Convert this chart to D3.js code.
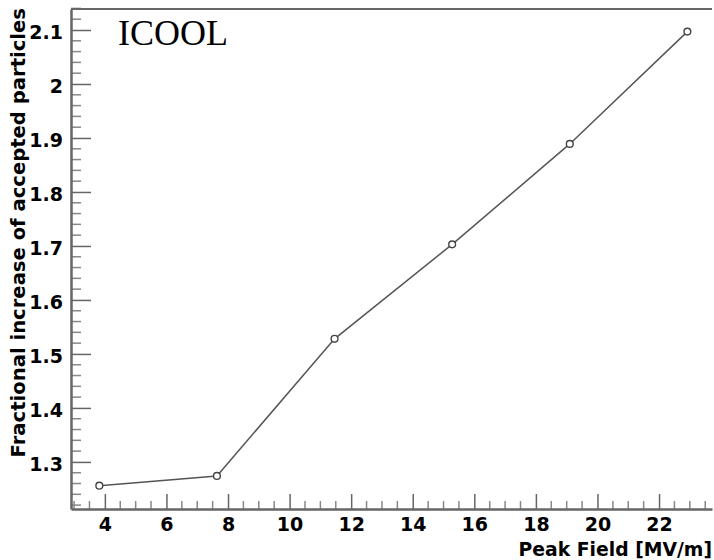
<!DOCTYPE html>
<html lang="en">
<head>
<meta charset="UTF-8">
<title>ICOOL peak field</title>
<style>
	body { margin: 0; background: #fff; }
	text { font-family: "DejaVu Sans", "Liberation Sans", Arial, sans-serif; font-weight: bold; fill: #000; }
</style>
</head>
<body>
<svg id="container" width="714" height="560"></svg>
<script src="https://cdn.jsdelivr.net/npm/d3@7"></script>
<script>
	// data
	let peakField = [3.82, 7.64, 11.46, 15.28, 19.1, 22.92];
	let fracIncrease = [1.256, 1.274, 1.528, 1.703, 1.889, 2.097];
	let xTicks = [4, 6, 8, 10, 12, 14, 16, 18, 20, 22];
	let yTicks = [1.3, 1.4, 1.5, 1.6, 1.7, 1.8, 1.9, 2, 2.1];
	let xTitle = "Peak Field [MV/m]";
	let yTitle = "Fractional increase of accepted particles";
	let label = "ICOOL";

	let padL = 71, padR = 712, padT = 9, padB = 509;
	let svg = d3.select("#container");
	let font = "DejaVu Sans, Liberation Sans, Arial, sans-serif";

	let xscale = d3.scaleLinear().domain([2.9, 23.72]).range([padL, padR]);
	let yscale = d3.scaleLinear().domain([1.2128, 2.1389]).range([padB, padT]);

	let data = peakField.map((x, i) => ({x: x, y: fracIncrease[i]}));

	// minor ticks
	let xMinor = d3.range(3, 23.8, 0.5).filter(v => xTicks.indexOf(v) < 0);
	let yMinor = d3.range(1.22, 2.14, 0.02).map(v => +v.toFixed(2)).filter(v => yTicks.indexOf(v) < 0);

	let grey = "#666";

	svg.append("g").selectAll("line").data(xMinor).join("line")
		.attr("x1", d => xscale(d)).attr("x2", d => xscale(d))
		.attr("y1", padB).attr("y2", padB - 8)
		.attr("stroke", "#888").attr("stroke-width", 1.5);
	svg.append("g").selectAll("line").data(yMinor).join("line")
		.attr("y1", d => yscale(d)).attr("y2", d => yscale(d))
		.attr("x1", padL).attr("x2", padL + 10)
		.attr("stroke", "#888").attr("stroke-width", 1.5);

	// x axis
	let xaxis = svg.append("g")
		.attr("transform", "translate(0," + padB + ")")
		.call(d3.axisBottom(xscale).tickValues(xTicks).tickSize(-15).tickPadding(6).tickSizeOuter(0));
	xaxis.select(".domain").attr("stroke", grey).attr("stroke-width", 2.5);
	xaxis.selectAll(".tick line").attr("stroke", grey).attr("stroke-width", 1.5);
	xaxis.selectAll(".tick text").attr("y", 9).attr("font-size", 19)
		.style("font-family", font).style("font-weight", "bold").attr("fill", "#000");

	// y axis
	let yaxis = svg.append("g")
		.attr("transform", "translate(" + padL + ",0)")
		.call(d3.axisLeft(yscale).tickValues(yTicks).tickSize(-20).tickPadding(8).tickSizeOuter(0).tickFormat(d3.format("")));
	yaxis.select(".domain").attr("stroke", grey).attr("stroke-width", 2.5);
	yaxis.selectAll(".tick line").attr("stroke", grey).attr("stroke-width", 1.5);
	yaxis.selectAll(".tick text").attr("x", -8).attr("dy", "0.45em").attr("font-size", 19)
		.style("font-family", font).style("font-weight", "bold").attr("fill", "#000");

	// top frame line
	svg.append("line")
		.attr("x1", padL).attr("x2", padR).attr("y1", padT).attr("y2", padT)
		.attr("stroke", grey).attr("stroke-width", 2);

	// data line and markers
	let valueline = d3.line().x(d => xscale(d.x)).y(d => yscale(d.y));
	svg.append("path").datum(data)
		.attr("d", valueline)
		.attr("fill", "none").attr("stroke", "#555").attr("stroke-width", 1.5);
	svg.append("g").selectAll("circle").data(data).join("circle")
		.attr("cx", d => xscale(d.x)).attr("cy", d => yscale(d.y))
		.attr("r", 3.4).attr("fill", "#fff").attr("stroke", "#444").attr("stroke-width", 1.4);

	// titles
	svg.append("text")
		.attr("x", padR).attr("y", 556)
		.attr("text-anchor", "end").attr("font-size", 18.8)
		.text(xTitle);
	svg.append("text")
		.attr("transform", "translate(25," + (padT - 1) + ") rotate(-90)")
		.attr("text-anchor", "end").attr("font-size", 19.6)
		.text(yTitle);

	svg.append("text")
		.attr("x", 118).attr("y", 45)
		.style("font-family", "Liberation Serif, Times New Roman, serif").style("font-weight", "normal")
		.attr("font-size", 36)
		.text(label);
</script>
</body>
</html>
